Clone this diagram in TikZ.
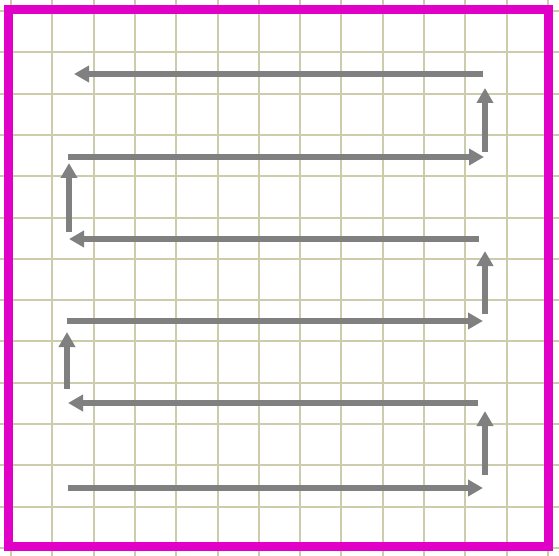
\documentclass[tikz,border=0pt]{standalone}
\usetikzlibrary{arrows.meta}
\definecolor{gridc}{RGB}{204,204,170}
\definecolor{framec}{RGB}{224,0,200}
\definecolor{arrc}{RGB}{128,128,128}
\tikzset{
  gridline/.style={draw=gridc,line width=2pt},
  frameline/.style={draw=framec,line width=9pt},
  flow/.style={draw=arrc,line width=6pt,-{Triangle[length=15pt,width=16pt]}},
  flowplain/.style={draw=arrc,line width=6pt}
}
\begin{document}
\begin{tikzpicture}[x=1pt,y=-1pt]
\useasboundingbox (0,0) rectangle (559,556);
% grid
\foreach \k in {0,...,13}{
  \draw[gridline] ({11+41.3*\k},0) -- ({11+41.3*\k},556);
  \draw[gridline] (0,{11+41.3*\k}) -- (559,{11+41.3*\k});
}
% frame
\draw[frameline] (8.5,9.5) rectangle (548.5,546);
% endpoints
\coordinate (a1s) at (483,74);   \coordinate (a1e) at (74,74);
\coordinate (u1s) at (485,152);  \coordinate (u1e) at (485,88);
\coordinate (a2s) at (68,157);   \coordinate (a2e) at (484,157);
\coordinate (u2s) at (69,232);   \coordinate (u2e) at (69,163);
\coordinate (a3s) at (479,239);  \coordinate (a3e) at (69,239);
\coordinate (u3s) at (485,314);  \coordinate (u3e) at (485,251);
\coordinate (a4s) at (67,321);   \coordinate (a4e) at (483,321);
\coordinate (u4s) at (67,389);   \coordinate (u4e) at (67,332);
\coordinate (a5s) at (478,403);  \coordinate (a5e) at (68,403);
\coordinate (u5s) at (485,475);  \coordinate (u5e) at (485,411);
\coordinate (a6s) at (68,488);   \coordinate (a6e) at (483,488);
% arrows
\draw[flow] (a1s) -- (a1e);
\draw[flow] (u1s) -- (u1e);
\draw[flow] (a2s) -- (a2e);
\draw[flow] (u2s) -- (u2e);
\draw[flow] (a3s) -- (a3e);
\draw[flow] (u3s) -- (u3e);
\draw[flow] (a4s) -- (a4e);
\draw[flow] (u4s) -- (u4e);
\draw[flow] (a5s) -- (a5e);
\draw[flow] (u5s) -- (u5e);
\draw[flow] (a6s) -- (a6e);
\end{tikzpicture}
\end{document}
